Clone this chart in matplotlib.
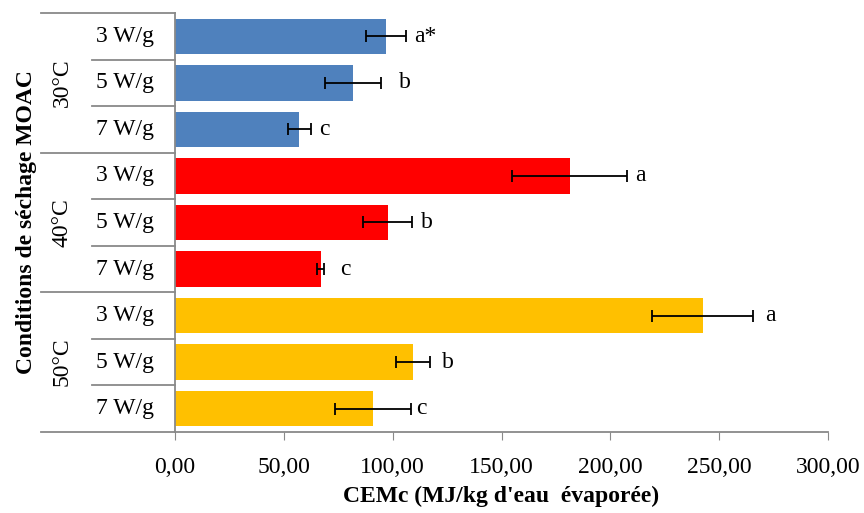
import matplotlib.pyplot as plt
import matplotlib.transforms as mtransforms
import numpy as np

plt.rcParams['font.family'] = ['Liberation Serif', 'DejaVu Serif']

temperatures = ['30°C', '40°C', '50°C']
powers = ['3 W/g', '5 W/g', '7 W/g']
cemc = [97.0, 81.8, 57.0, 181.4, 97.8, 67.0, 242.5, 109.3, 91.0]
cemc_err = [9.2, 12.9, 5.3, 26.4, 11.2, 1.6, 23.2, 7.8, 17.5]
letters = ['a*', 'b', 'c', 'a', 'b', 'c', 'a', 'b', 'c']
letter_x = [114.8, 105.6, 68.4, 214.0, 115.8, 78.5, 273.3, 125.4, 113.0]
group_colors = ['#4F81BD', '#FF0000', '#FFC000']

fs = 17

fig = plt.figure(figsize=(8.64, 5.13), dpi=100)
ax = fig.add_axes([175 / 864, 81 / 513, 653 / 864, 419 / 513])

pos = np.arange(len(cemc))
colors = [c for c in group_colors for _ in powers]
ax.barh(pos, cemc, height=0.76, color=colors, zorder=2)
ax.errorbar(cemc, pos, xerr=cemc_err, fmt='none', ecolor='black',
            elinewidth=1.3, capsize=4.5, capthick=1.3, zorder=3)
for y, (lx, t) in enumerate(zip(letter_x, letters)):
    ax.text(lx, y, t, ha='center', va='center', fontsize=fs)

ax.set_xlim(0, 300)
ax.set_ylim(len(cemc) - 0.5, -0.5)
ax.set_xticks(np.arange(0, 301, 50))
ax.set_xticklabels([f'{v:.2f}'.replace('.', ',') for v in np.arange(0, 301, 50)])
ax.tick_params(axis='x', labelsize=fs, length=6, color='#898989', pad=12)
ax.set_yticks([])
for s in ['top', 'right']:
    ax.spines[s].set_visible(False)
for s in ['left', 'bottom']:
    ax.spines[s].set_color('#898989')
    ax.spines[s].set_linewidth(1.3)

# two-level category axis
trans = mtransforms.blended_transform_factory(ax.transAxes, ax.transData)
for i in range(len(cemc) + 1):
    x0 = -0.2052 if i % 3 == 0 else -0.1271
    ax.plot([x0, 0], [i - 0.5, i - 0.5], color='#898989', lw=1.3,
            transform=trans, clip_on=False)
for i, p in enumerate(powers * 3):
    ax.text(-0.0766, i, p, ha='center', va='center', fontsize=fs, transform=trans)
for g, t in enumerate(temperatures):
    ax.text(-0.173, g * 3 + 1, t, ha='center', va='center', rotation=90,
            fontsize=fs, transform=trans)

ax.text(-0.2267, 0.5, 'Conditions de séchage MOAC', ha='center', va='center',
        rotation=90, fontsize=fs, fontweight='bold', transform=ax.transAxes)
ax.text(0.5, -0.1527, "CEMc (MJ/kg d'eau  évaporée)", ha='center', va='center',
        fontsize=fs, fontweight='bold', transform=ax.transAxes)

fig.savefig('out.png', dpi=100)
